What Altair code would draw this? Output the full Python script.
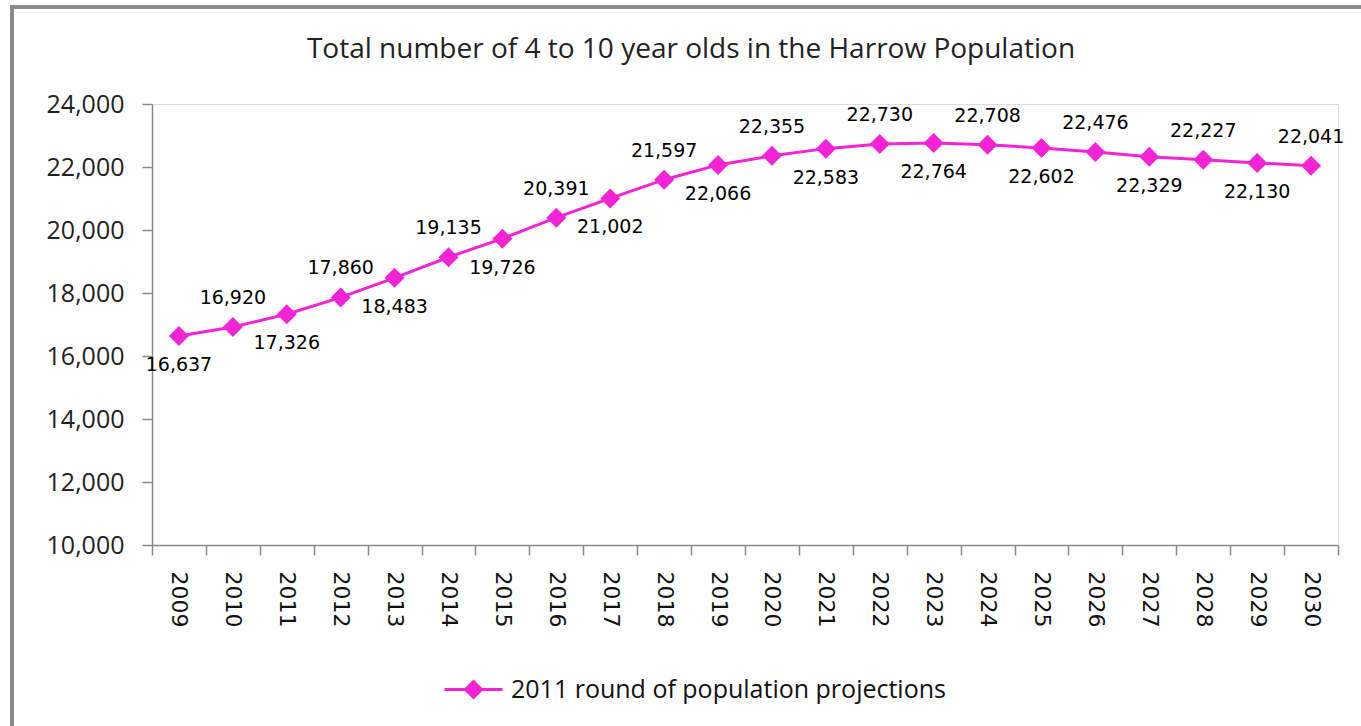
import altair as alt
import pandas as pd

years = [str(y) for y in range(2009, 2031)]
values = [16637, 16920, 17326, 17860, 18483, 19135, 19726, 20391, 21002, 21597, 22066,
          22355, 22583, 22730, 22764, 22708, 22602, 22476, 22329, 22227, 22130, 22041]
label_pos = ["below", "above"] * 11
series_name = "2011 round of population projections"
title_text = "Total number of 4 to 10 year olds in the Harrow Population"
y_ticks = list(range(10000, 24001, 2000))

MAG = "#F424D6"
GREY = "#8a8a8a"

df = pd.DataFrame({"year": years, "value": values, "pos": label_pos,
                   "series": [series_name] * len(years)})

W, H = 1186, 441
PL, PT = 152, 104

x_enc = alt.X("year:O", title=None,
              scale=alt.Scale(paddingInner=0, paddingOuter=0),
              axis=alt.Axis(labelAngle=90, labelAlign="left", labelBaseline="middle",
                            labelFont="DejaVu Sans", labelFontSize=22, labelColor="#111",
                            labelPadding=16, tickBand="extent", tickSize=10,
                            tickColor=GREY, domainColor=GREY, domainWidth=1.5, tickWidth=1.5))
y_enc = alt.Y("value:Q", title=None,
              scale=alt.Scale(domain=[10000, 24000], nice=False, zero=False),
              axis=alt.Axis(values=y_ticks, format=",.0f",
                            labelFont="Open Sans", labelFontSize=25, labelColor="#222",
                            labelPadding=18, tickSize=10, grid=False,
                            tickColor=GREY, domainColor=GREY, domainWidth=1.5, tickWidth=1.5))

base = alt.Chart(df)

frame = base.mark_rect(fill=None, stroke=GREY, strokeWidth=2.5).encode(
    x=alt.value(12 - PL), x2=alt.value(1361 - PL + 30),
    y=alt.value(7 - PT), y2=alt.value(726 - PT + 30))

title = alt.Chart(pd.DataFrame({"t": [title_text]})).mark_text(
    font="Open Sans", fontSize=28, color="#222", align="center", baseline="middle").encode(
    x=alt.value(691 - PL), y=alt.value(50 - PT), text="t:N")

line = base.mark_line(color=MAG, strokeWidth=3).encode(x=x_enc, y=y_enc)

legend_path = "M-2.9,0H2.9M0,-0.8L0.8,0L0,0.8L-0.8,0Z"
points = base.mark_point(shape="diamond", filled=True, size=400, opacity=1).encode(
    x=x_enc, y=y_enc,
    color=alt.Color("series:N", scale=alt.Scale(range=[MAG]), title=None,
                    legend=alt.Legend(orient="none", legendX=309, legendY=573,
                                      symbolType=legend_path, symbolSize=400,
                                      symbolFillColor=MAG, symbolStrokeColor=MAG,
                                      symbolStrokeWidth=3, labelOffset=25,
                                      labelFont="Open Sans", labelFontSize=25,
                                      labelColor="#111", labelLimit=0, padding=0)))

above = base.transform_filter(alt.datum.pos == "above").mark_text(
    font="DejaVu Sans", fontSize=19, color="#000", dy=-29).encode(
    x=x_enc, y=y_enc, text=alt.Text("value:Q", format=","))
below = base.transform_filter(alt.datum.pos == "below").mark_text(
    font="DejaVu Sans", fontSize=19, color="#000", dy=29).encode(
    x=x_enc, y=y_enc, text=alt.Text("value:Q", format=","))

chart = alt.layer(frame, title, line, points, above, below).properties(
    width=W, height=H,
    autosize=alt.AutoSizeParams(type="none"),
    padding={"left": PL, "top": PT, "right": 1361 - PL - W, "bottom": 726 - PT - H},
).configure_view(stroke=None).configure(background="white")

chart.save("out.html", embed_options={"renderer": "svg", "actions": False})
